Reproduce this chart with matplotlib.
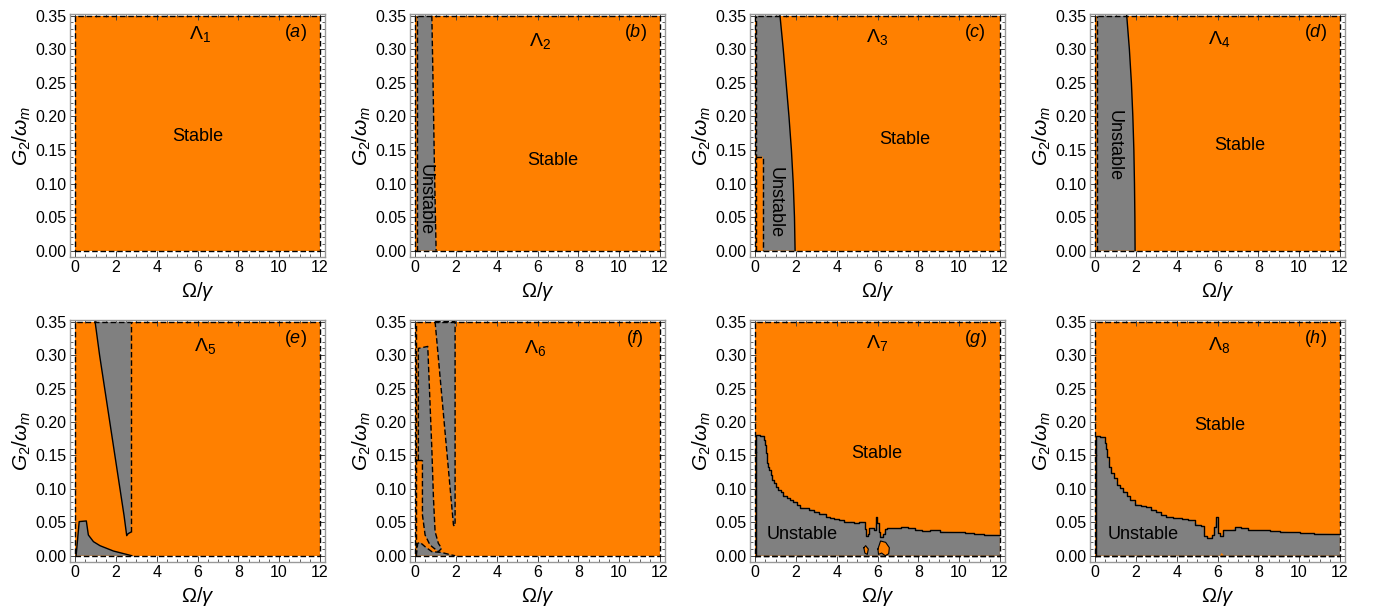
import matplotlib
matplotlib.use("Agg")
import matplotlib.pyplot as plt
from matplotlib.ticker import MultipleLocator

plt.rcParams['font.family'] = ['Liberation Sans', 'DejaVu Sans']
plt.rcParams['mathtext.fontset'] = 'custom'
plt.rcParams['mathtext.rm'] = 'Liberation Sans'
plt.rcParams['mathtext.it'] = 'Liberation Sans:italic'

ORANGE = '#ff8000'
GRAY = '#808080'

# plot range
OMEGA_MAX = 12.0
G2_MAX = 0.35

# ---- (b) unstable strip
b_left_x = [0.11, 0.11]
b_left_y = [0.0, 0.35]
b_right_x = [0.82, 0.88, 0.95, 1.03]
b_right_y = [0.35, 0.25, 0.12, 0.0]

# ---- (c)
c_right_x = [1.22, 1.38, 1.52, 1.66, 1.78, 1.87, 1.93, 1.96]
c_right_y = [0.35, 0.30, 0.25, 0.20, 0.15, 0.10, 0.05, 0.0]
c_left = 0.05
c_strip_x = [0.05, 0.38]
c_strip_top = 0.14

# ---- (d)
d_right_x = [1.55, 1.68, 1.78, 1.85, 1.90, 1.93, 1.95, 1.96]
d_right_y = [0.35, 0.30, 0.25, 0.20, 0.15, 0.10, 0.05, 0.0]
d_left = 0.09

# ---- (e)
e_wedge_left_x = [0.98, 1.20, 1.45, 1.70, 1.95, 2.20, 2.40, 2.53, 2.60, 2.72]
e_wedge_left_y = [0.35, 0.30, 0.25, 0.20, 0.15, 0.10, 0.06, 0.030, 0.033, 0.035]
e_wedge_right_x = [2.72, 2.72]
e_wedge_right_y = [0.035, 0.35]
e_low_x = [0.05, 0.20, 0.55, 0.65, 0.90, 1.22, 1.88, 2.78]
e_low_y = [0.0, 0.051, 0.052, 0.031, 0.021, 0.015, 0.007, 0.0]

# ---- (f)
f_tall_outer_x = [0.16, 0.16, 0.62, 0.69, 0.82, 0.90, 0.98, 1.14, 1.30]
f_tall_outer_y = [0.143, 0.31, 0.313, 0.26, 0.16, 0.086, 0.036, 0.0185, 0.011]
f_tall_inner_x = [1.30, 1.14, 0.73, 0.49, 0.36, 0.36]
f_tall_inner_y = [0.011, 0.006, 0.016, 0.031, 0.061, 0.143]
f_step_x = [0.05, 0.36]
f_step_y = [0.143, 0.143]
f_wedge_x = [0.98, 1.96, 1.96, 1.93, 1.88]
f_wedge_y = [0.35, 0.35, 0.05, 0.044, 0.046]
f_low_x = [0.05, 0.13, 0.24, 0.49, 0.82, 1.30, 1.47, 1.80, 1.96]
f_low_y = [0.0, 0.0185, 0.020, 0.0135, 0.006, 0.005, 0.0035, 0.001, 0.0]

# ---- (g) upper edge of the unstable region
g_edge_x = [0.04, 0.08, 0.41, 0.49, 0.52, 0.57, 0.62, 0.66, 0.73, 0.80, 0.90, 0.98, 1.06,
            1.20, 1.31, 1.45, 1.63, 1.80, 1.96, 2.10, 2.29, 2.50, 2.77, 3.00, 3.26, 3.40,
            3.55, 3.75, 4.00, 4.24, 4.50, 4.73, 5.00, 5.22, 5.35, 5.42, 5.47,
            5.58, 5.62, 5.78, 5.88, 5.96, 6.02, 6.08, 6.20, 6.30, 6.45, 6.53, 7.00,
            7.30, 7.67, 8.00, 8.32, 8.80, 9.30, 9.70, 10.1, 10.5, 10.94, 11.5, 12.0]
g_edge_y = [0.155, 0.180, 0.1795, 0.173, 0.165, 0.153, 0.138, 0.132, 0.128, 0.120, 0.113,
            0.108, 0.103, 0.099, 0.096, 0.090, 0.086, 0.083, 0.081, 0.076, 0.072, 0.071,
            0.069, 0.066, 0.0625, 0.063, 0.058, 0.056, 0.055, 0.0535, 0.050, 0.051, 0.049,
            0.051, 0.050, 0.040, 0.029, 0.033, 0.041, 0.042, 0.038, 0.0585, 0.049, 0.036,
            0.0285, 0.033, 0.040, 0.041, 0.041, 0.043, 0.041, 0.039, 0.037, 0.038, 0.036,
            0.0355, 0.035, 0.034, 0.0322, 0.0315, 0.031]
g_hole1_x = [5.33, 5.42, 5.55, 5.50, 5.38]
g_hole1_y = [0.012, 0.015, 0.010, 0.002, 0.004]
g_hole2_x = [6.02, 6.15, 6.40, 6.58, 6.55, 6.38, 6.20, 6.05]
g_hole2_y = [0.010, 0.022, 0.020, 0.012, 0.003, 0.0, 0.004, 0.002]

# ---- (h)
h_edge_x = [0.04, 0.08, 0.41, 0.52, 0.58, 0.62, 0.73, 0.85, 0.98, 1.14, 1.30, 1.47, 1.62,
            1.80, 2.12, 2.35, 2.61, 2.85, 3.10, 3.35, 3.59, 4.08, 4.40, 4.73, 5.06, 5.30,
            5.36, 5.64, 5.80, 5.88, 5.96, 6.04, 6.00, 6.20, 6.37, 6.70, 7.00, 7.30, 7.67,
            8.32, 8.80, 9.30, 9.80, 10.3, 11.2, 12.0]
h_edge_y = [0.150, 0.179, 0.178, 0.168, 0.160, 0.148, 0.133, 0.123, 0.116, 0.106, 0.101,
            0.096, 0.089, 0.083, 0.076, 0.075, 0.0725, 0.069, 0.066, 0.061, 0.0585, 0.056,
            0.055, 0.0535, 0.046, 0.045, 0.029, 0.026, 0.031, 0.043, 0.0585, 0.053, 0.034,
            0.029, 0.038, 0.038, 0.043, 0.041, 0.038, 0.038, 0.037, 0.036, 0.035, 0.0335,
            0.033, 0.0322]
h_hole_x = [6.12, 6.20, 6.30, 6.25]
h_hole_y = [0.0, 0.004, 0.001, 0.0]

letters = ['a', 'b', 'c', 'd', 'e', 'f', 'g', 'h']
lambda_x = [6.1, 6.1, 5.96, 6.1, 6.37, 5.9, 6.0, 6.1]
lambda_y = [0.322, 0.313, 0.318, 0.315, 0.313, 0.31, 0.318, 0.315]
stable_pos = [(6.0, 0.17), (6.76, 0.135), (7.35, 0.165), (7.1, 0.156), None, None,
              (5.96, 0.153), (6.12, 0.195)]
unstable_pos = [None, (0.5, 0.076), (0.98, 0.071), (0.95, 0.156), None, None,
                (2.29, 0.031), (2.36, 0.031)]


def dline(ax, xs, ys, ls='--'):
    if ls == '--':
        ax.plot(xs, ys, color='black', ls='--', lw=1.0, dashes=(4, 2), zorder=4)
    else:
        ax.plot(xs, ys, color='black', ls='-', lw=1.0, zorder=4)


def base(ax):
    ax.fill([0, OMEGA_MAX, OMEGA_MAX, 0], [0, 0, G2_MAX, G2_MAX], color=ORANGE, lw=0, zorder=1)
    dline(ax, [0, OMEGA_MAX, OMEGA_MAX, 0, 0], [0, 0, G2_MAX, G2_MAX, 0])


def gray(ax, xs, ys):
    ax.fill(xs, ys, color=GRAY, lw=0, zorder=2)


def orange(ax, xs, ys):
    ax.fill(xs, ys, color=ORANGE, lw=0, zorder=3)


fig = plt.figure(figsize=(13.73, 6.15), dpi=100)
W, H = 1373, 615
cols = [70, 410, 750, 1090]
rows = [(14, 257), (320, 562)]
axes = []
for r, (top, bot) in enumerate(rows):
    for c, left in enumerate(cols):
        ax = fig.add_axes([left / W, 1 - bot / H, 255 / W, (bot - top) / H])
        axes.append(ax)

for ax in axes:
    base(ax)

# (b)
ax = axes[1]
gray(ax, b_left_x + b_right_x, b_left_y + b_right_y)
dline(ax, b_left_x, b_left_y)
dline(ax, b_right_x, b_right_y)

# (c)
ax = axes[2]
gx = [c_left, c_left] + c_right_x + [c_strip_x[1], c_strip_x[1], c_left]
gy = [c_strip_top, G2_MAX] + c_right_y + [0, c_strip_top, c_strip_top]
gray(ax, gx, gy)
dline(ax, [c_left, c_left], [0, G2_MAX])
dline(ax, [c_left, c_strip_x[1], c_strip_x[1]], [c_strip_top, c_strip_top, 0])
dline(ax, c_right_x, c_right_y, ls='-')

# (d)
ax = axes[3]
gray(ax, [d_left, d_left] + d_right_x, [0, G2_MAX] + d_right_y)
dline(ax, [d_left, d_left], [0, G2_MAX])
dline(ax, d_right_x, d_right_y, ls='-')

# (e)
ax = axes[4]
gray(ax, e_wedge_left_x + e_wedge_right_x, e_wedge_left_y + e_wedge_right_y)
dline(ax, e_wedge_left_x, e_wedge_left_y, ls='-')
dline(ax, e_wedge_right_x, e_wedge_right_y)
gray(ax, e_low_x, e_low_y)
dline(ax, e_low_x, e_low_y, ls='-')

# (f)
ax = axes[5]
gray(ax, f_tall_outer_x + f_tall_inner_x, f_tall_outer_y + f_tall_inner_y)
dline(ax, f_tall_outer_x + f_tall_inner_x, f_tall_outer_y + f_tall_inner_y)
dline(ax, f_step_x, f_step_y)
dline(ax, [f_step_x[0], f_step_x[0]], [0, G2_MAX])
gray(ax, f_wedge_x, f_wedge_y)
dline(ax, f_wedge_x + [f_wedge_x[0]], f_wedge_y + [f_wedge_y[0]])
gray(ax, f_low_x, f_low_y)
dline(ax, f_low_x, f_low_y)

# (g) and (h)
for ax, ex, ey in [(axes[6], g_edge_x, g_edge_y), (axes[7], h_edge_x, h_edge_y)]:
    gray(ax, [ex[0]] + ex + [OMEGA_MAX], [0] + ey + [0])
    ax.step(ex, ey, where='mid', color='black', lw=1.0, zorder=4)
    dline(ax, [ex[0], ex[0]], [0, ey[0]], ls='-')
    dline(ax, [0, OMEGA_MAX], [0, 0])
for hx, hy in [(g_hole1_x, g_hole1_y), (g_hole2_x, g_hole2_y)]:
    orange(axes[6], hx, hy)
    axes[6].plot(hx + hx[:1], hy + hy[:1], color='black', lw=0.8, zorder=4)
orange(axes[7], h_hole_x, h_hole_y)

for i, ax in enumerate(axes):
    ax.set_xlim(-0.25, 12.25)
    ax.set_ylim(-0.0094, 0.3525)
    ax.xaxis.set_major_locator(MultipleLocator(2))
    ax.xaxis.set_minor_locator(MultipleLocator(0.5))
    ax.yaxis.set_major_locator(MultipleLocator(0.05))
    ax.yaxis.set_minor_locator(MultipleLocator(0.01))
    ax.yaxis.set_major_formatter(plt.FuncFormatter(lambda v, p: f'{v:.2f}'))
    ax.tick_params(which='both', direction='in', top=True, right=True, labelsize=11.5,
                   color='#444444', pad=2.5)
    ax.tick_params(which='major', length=4.5, width=0.7)
    ax.tick_params(which='minor', length=2.5, width=0.6)
    for s in ax.spines.values():
        s.set_color('#999999')
        s.set_linewidth(1.0)
    ax.set_xlabel(r'$\Omega/\gamma$', fontsize=14.5, labelpad=3)
    ax.set_ylabel(r'$G_2/\omega_m$', fontsize=15, labelpad=2)
    ax.text(lambda_x[i], lambda_y[i], r'$\Lambda_{%d}$' % (i + 1), fontsize=14,
            ha='center', va='center', zorder=6)
    ax.text(10.8, 0.325, r'$(%s)$' % letters[i], fontsize=13, ha='center',
            va='center', zorder=6)
    if stable_pos[i] is not None:
        ax.text(stable_pos[i][0], stable_pos[i][1], 'Stable', fontsize=13,
                ha='center', va='center', zorder=6)
    if unstable_pos[i] is not None:
        rot = -90 if i in (1, 2, 3) else 0
        ax.text(unstable_pos[i][0], unstable_pos[i][1], 'Unstable', fontsize=13,
                ha='center', va='center', rotation=rot, zorder=6)

fig.savefig('out.png', dpi=100)
